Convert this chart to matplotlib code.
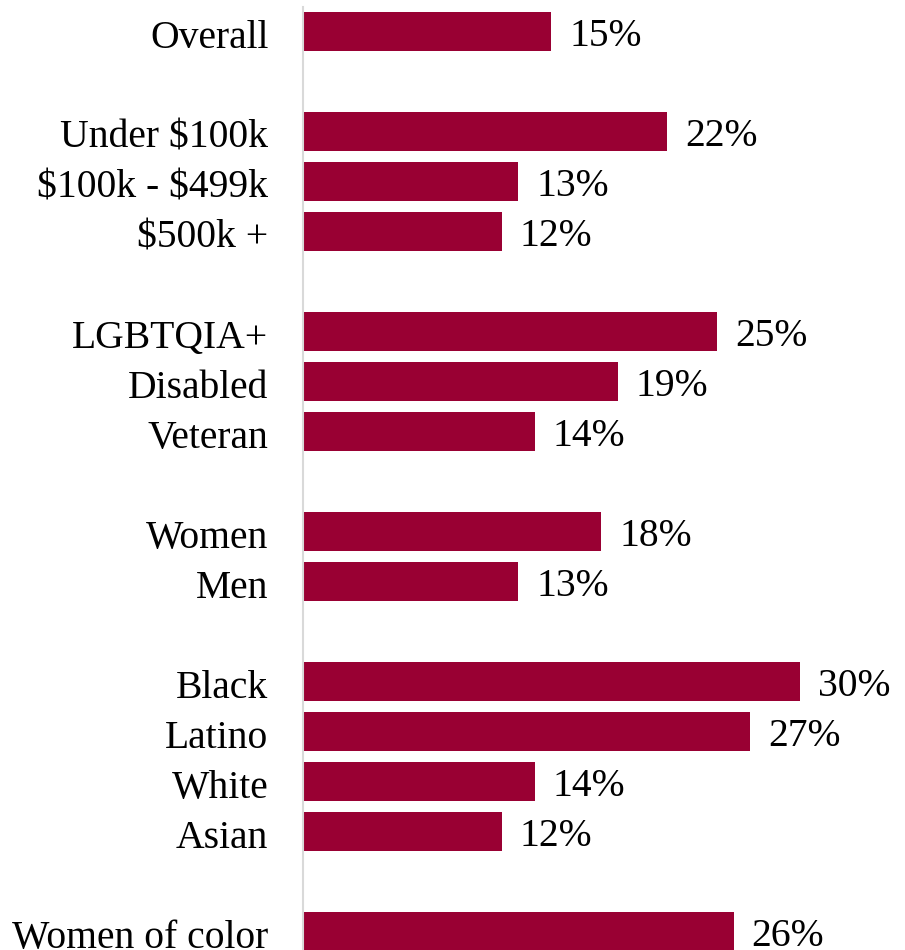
import matplotlib.pyplot as plt
import matplotlib.transforms as mtransforms

# groups of survey results, blank rows separate the groups
groups = [
    (["Overall"], [15]),
    (["Under \\$100k", "\\$100k - \\$499k", "\\$500k +"], [22, 13, 12]),
    (["LGBTQIA+", "Disabled", "Veteran"], [25, 19, 14]),
    (["Women", "Men"], [18, 13]),
    (["Black", "Latino", "White", "Asian"], [30, 27, 14, 12]),
    (["Women of color"], [26]),
]

labels = []
values = []
rows = []
r = 0
for names, vals in groups:
    for n, v in zip(names, vals):
        labels.append(n)
        values.append(v)
        rows.append(r)
        r += 1
    r += 1  # empty row between groups

bar_color = "#990033"
font = "Liberation Serif"

fig = plt.figure(figsize=(9.05, 9.5), dpi=100)
ax = fig.add_axes([303 / 905, 0, 530 / 905, 1 - 7 / 950])

ax.barh(rows, values, height=0.78, color=bar_color)
for y, v in zip(rows, values):
    ax.annotate(f"{v}%", (v, y), xytext=(13, -4), textcoords="offset points",
                va="center", ha="left", fontsize=28.5, family=font)

ax.set_xlim(0, 32)
ax.set_ylim(18.38, -0.48)
ax.set_yticks(rows)
ax.set_yticklabels(labels, fontsize=28.5, family=font)
ax.tick_params(axis="y", length=0, pad=25)
# nudge the category labels down a little
shift = mtransforms.ScaledTranslation(0, -2 / 72, fig.dpi_scale_trans)
for lbl in ax.get_yticklabels():
    lbl.set_transform(lbl.get_transform() + shift)
ax.set_xticks([])
for s in ["top", "right", "bottom"]:
    ax.spines[s].set_visible(False)
ax.spines["left"].set_color("#d9d9d9")
ax.spines["left"].set_linewidth(1.5)

fig.savefig("out.png", dpi=100)
